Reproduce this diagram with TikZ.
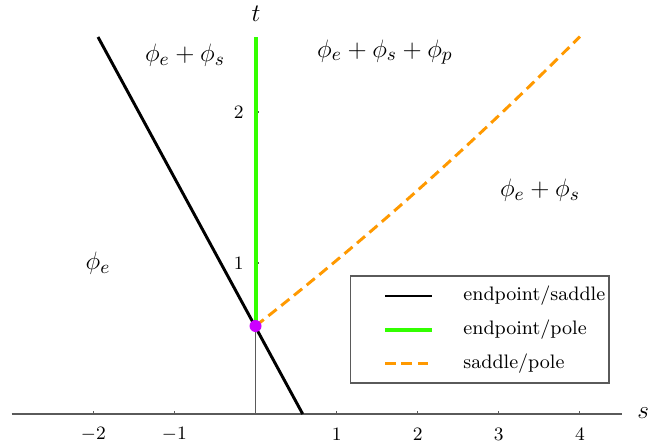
\documentclass[tikz,border=0pt]{standalone}
\usepackage{tikz}
\definecolor{myorange}{RGB}{255,153,0}
\definecolor{mygreen}{RGB}{51,255,0}
\definecolor{mypurple}{RGB}{204,0,255}
\definecolor{axisgray}{RGB}{90,90,90}
\tikzset{
  axisline/.style={draw=axisgray, line width=0.5pt},
  tickmark/.style={draw=axisgray, line width=0.5pt},
  ticklabel/.style={font=\fontsize{9.5}{11}\selectfont, inner sep=0pt},
  regionlabel/.style={font=\fontsize{13}{15}\selectfont, inner sep=0pt},
  axislabel/.style={font=\fontsize{12.5}{14}\selectfont, inner sep=0pt},
  saddleline/.style={draw=black, line width=1.4pt},
  poleline/.style={draw=mygreen, line width=1.9pt},
  sapoline/.style={draw=myorange, line width=1.4pt, dash pattern=on 5pt off 2.8pt},
  legendbox/.style={draw=axisgray, line width=0.5pt},
  legendtext/.style={font=\fontsize{9.3}{11}\selectfont, anchor=west, inner sep=0pt},
}
\begin{document}
\begin{tikzpicture}[x=0.47619pt,y=-0.47619pt]
\useasboundingbox (0,0) rectangle (648,446);
% axes
\coordinate (sl) at (11.6,414);
\coordinate (sr) at (622,414);
\coordinate (tb) at (255.5,414);
\coordinate (tt) at (255.5,37);
\draw[axisline] (sl) -- (sr);
\draw[axisline] (tb) -- (tt);
\node[axislabel, anchor=west] (slab) at (637,413) {$s$};
\node[axislabel] (tlab) at (256,14) {$t$};
% s ticks
\foreach \xx/\lab in {93.3/$-2$,174.4/$-1$,336.6/$1$,417.7/$2$,498.8/$3$,579.9/$4$}{
  \draw[tickmark] (\xx,414) -- (\xx,410.5);
  \node[ticklabel] at (\xx,434) {\lab};
}
% t ticks
\foreach \yy/\lab in {263/$1$,112/$2$}{
  \draw[tickmark] (255.5,\yy) -- (259,\yy);
  \node[ticklabel, anchor=east] at (244,\yy) {\lab};
}
% curves
\coordinate (m) at (255.5,326);
\coordinate (bb) at (302.7,414);
\coordinate (bt) at (98,37);
\coordinate (gt) at (255.5,37);
\draw[saddleline] (bb) -- (bt);
\draw[poleline] (m) -- (gt);
\draw[sapoline] plot[domain=0:4, samples=60, smooth] ({255.5+81.1*\x}, {414-151*(0.583+0.42*\x+0.0148*\x*\x)});
\fill[mypurple] (m) circle[radius=6];
% region labels
\node[regionlabel] (r1) at (185,55) {$\phi_e+\phi_s$};
\node[regionlabel] (r2) at (385,52) {$\phi_e+\phi_s+\phi_p$};
\node[regionlabel] (r3) at (540,190) {$\phi_e+\phi_s$};
\node[regionlabel] (r4) at (98,263) {$\phi_e$};
% legend
\draw[legendbox] (350.5,276) rectangle (609,383);
\coordinate (l1a) at (385,296);   \coordinate (l1b) at (432,296);
\coordinate (l2a) at (385,330);   \coordinate (l2b) at (432,330);
\coordinate (l3a) at (385,363.5); \coordinate (l3b) at (432,363.5);
\draw[saddleline] (l1a) -- (l1b);
\draw[poleline] (l2a) -- (l2b);
\draw[sapoline] (l3a) -- (l3b);
\node[legendtext] (t1) at (463,296) {endpoint/saddle};
\node[legendtext] (t2) at (463,330) {endpoint/pole};
\node[legendtext] (t3) at (463,363.5) {saddle/pole};
\end{tikzpicture}
\end{document}
